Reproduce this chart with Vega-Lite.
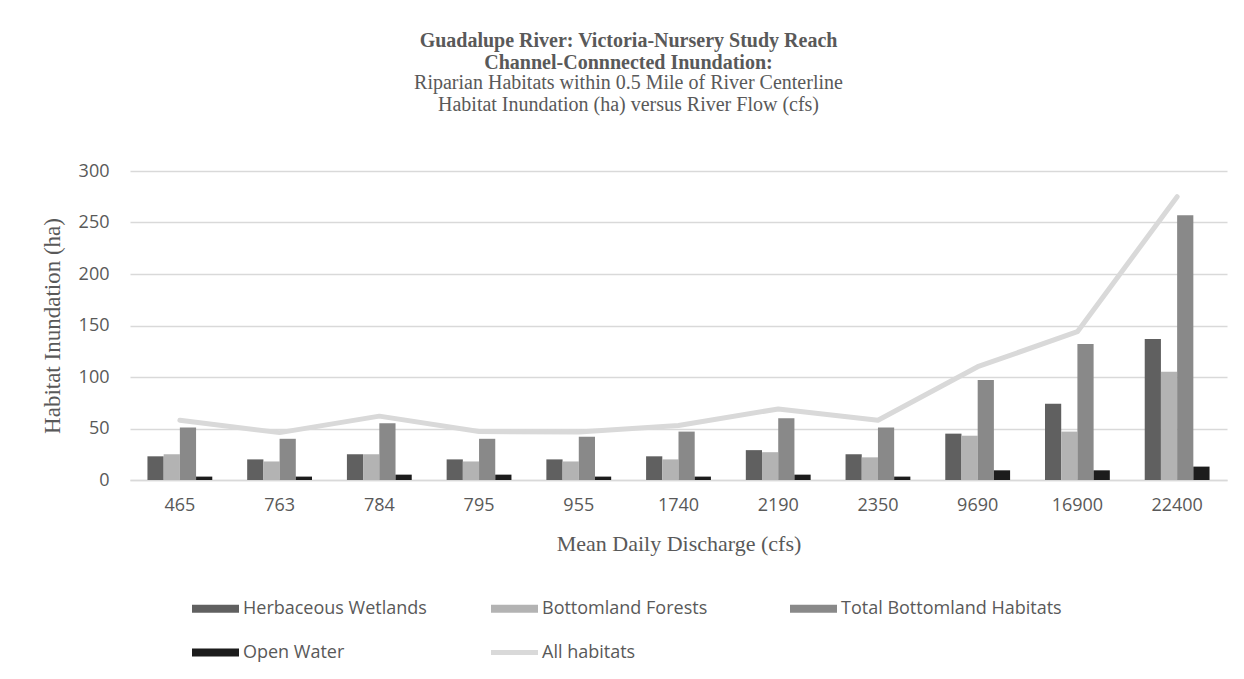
{
  "$schema": "https://vega.github.io/schema/vega-lite/v6.json",
  "width": 1097,
  "height": 309,
  "autosize": {"type": "none"},
  "padding": {"left": 130, "top": 171, "right": 17, "bottom": 199},
  "background": "white",
  "title": {
    "text": ["Guadalupe River: Victoria-Nursery Study Reach", "Channel-Connnected Inundation:"],
    "subtitle": ["Riparian Habitats within 0.5 Mile of River Centerline", "Habitat Inundation (ha) versus River Flow (cfs)"],
    "anchor": "middle",
    "frame": "group",
    "dx": -50,
    "offset": 47,
    "font": "Liberation Serif",
    "fontSize": 20,
    "fontWeight": "bold",
    "color": "#595959",
    "lineHeight": 22,
    "subtitleFont": "Liberation Serif",
    "subtitleFontSize": 20,
    "subtitleColor": "#595959",
    "subtitleLineHeight": 22,
    "subtitlePadding": 0
  },
  "data": {
    "values": [
      {"flow": "465", "series": "Herbaceous Wetlands", "value": 23},
      {"flow": "465", "series": "Bottomland Forests", "value": 25},
      {"flow": "465", "series": "Total Bottomland Habitats", "value": 51},
      {"flow": "465", "series": "Open Water", "value": 3.3},
      {"flow": "465", "series": "All habitats", "value": 58},
      {"flow": "763", "series": "Herbaceous Wetlands", "value": 20},
      {"flow": "763", "series": "Bottomland Forests", "value": 18},
      {"flow": "763", "series": "Total Bottomland Habitats", "value": 40},
      {"flow": "763", "series": "Open Water", "value": 3.3},
      {"flow": "763", "series": "All habitats", "value": 46},
      {"flow": "784", "series": "Herbaceous Wetlands", "value": 25},
      {"flow": "784", "series": "Bottomland Forests", "value": 25},
      {"flow": "784", "series": "Total Bottomland Habitats", "value": 55},
      {"flow": "784", "series": "Open Water", "value": 5.2},
      {"flow": "784", "series": "All habitats", "value": 62},
      {"flow": "795", "series": "Herbaceous Wetlands", "value": 20},
      {"flow": "795", "series": "Bottomland Forests", "value": 18},
      {"flow": "795", "series": "Total Bottomland Habitats", "value": 40},
      {"flow": "795", "series": "Open Water", "value": 5.2},
      {"flow": "795", "series": "All habitats", "value": 47},
      {"flow": "955", "series": "Herbaceous Wetlands", "value": 20},
      {"flow": "955", "series": "Bottomland Forests", "value": 18},
      {"flow": "955", "series": "Total Bottomland Habitats", "value": 42},
      {"flow": "955", "series": "Open Water", "value": 3.3},
      {"flow": "955", "series": "All habitats", "value": 46.5},
      {"flow": "1740", "series": "Herbaceous Wetlands", "value": 23},
      {"flow": "1740", "series": "Bottomland Forests", "value": 20},
      {"flow": "1740", "series": "Total Bottomland Habitats", "value": 47},
      {"flow": "1740", "series": "Open Water", "value": 3.3},
      {"flow": "1740", "series": "All habitats", "value": 53},
      {"flow": "2190", "series": "Herbaceous Wetlands", "value": 29},
      {"flow": "2190", "series": "Bottomland Forests", "value": 27},
      {"flow": "2190", "series": "Total Bottomland Habitats", "value": 60},
      {"flow": "2190", "series": "Open Water", "value": 5.2},
      {"flow": "2190", "series": "All habitats", "value": 69},
      {"flow": "2350", "series": "Herbaceous Wetlands", "value": 25},
      {"flow": "2350", "series": "Bottomland Forests", "value": 22},
      {"flow": "2350", "series": "Total Bottomland Habitats", "value": 51},
      {"flow": "2350", "series": "Open Water", "value": 3.3},
      {"flow": "2350", "series": "All habitats", "value": 58},
      {"flow": "9690", "series": "Herbaceous Wetlands", "value": 45},
      {"flow": "9690", "series": "Bottomland Forests", "value": 43},
      {"flow": "9690", "series": "Total Bottomland Habitats", "value": 97},
      {"flow": "9690", "series": "Open Water", "value": 9.4},
      {"flow": "9690", "series": "All habitats", "value": 110},
      {"flow": "16900", "series": "Herbaceous Wetlands", "value": 74},
      {"flow": "16900", "series": "Bottomland Forests", "value": 47},
      {"flow": "16900", "series": "Total Bottomland Habitats", "value": 132},
      {"flow": "16900", "series": "Open Water", "value": 9.4},
      {"flow": "16900", "series": "All habitats", "value": 144},
      {"flow": "22400", "series": "Herbaceous Wetlands", "value": 137},
      {"flow": "22400", "series": "Bottomland Forests", "value": 105},
      {"flow": "22400", "series": "Total Bottomland Habitats", "value": 257},
      {"flow": "22400", "series": "Open Water", "value": 13},
      {"flow": "22400", "series": "All habitats", "value": 275}
    ]
  },
  "encoding": {
    "x": {
      "field": "flow",
      "type": "nominal",
      "sort": null,
      "scale": {"paddingInner": 0.35, "paddingOuter": 0.175},
      "axis": {
        "title": "Mean Daily Discharge (cfs)",
        "labelAngle": 0,
        "ticks": false,
        "domain": true,
        "domainColor": "#d9d9d9",
        "domainWidth": 1.5,
        "labelFont": "Open Sans",
        "labelFontSize": 18,
        "labelColor": "#595959",
        "labelPadding": 16,
        "titleFont": "Liberation Serif",
        "titleFontSize": 22,
        "titleFontWeight": "normal",
        "titleColor": "#595959",
        "titlePadding": 19
      }
    },
    "y": {
      "field": "value",
      "type": "quantitative",
      "scale": {"domain": [0, 300]},
      "axis": {
        "title": "Habitat Inundation (ha)",
        "values": [0, 50, 100, 150, 200, 250, 300],
        "ticks": false,
        "domain": false,
        "grid": true,
        "gridColor": "#d9d9d9",
        "gridWidth": 1.3,
        "labelFont": "Open Sans",
        "labelFontSize": 18,
        "labelColor": "#595959",
        "labelPadding": 21,
        "titleFont": "Liberation Serif",
        "titleFontSize": 23,
        "titleFontWeight": "normal",
        "titleColor": "#595959",
        "titlePadding": 14
      }
    },
    "color": {
      "field": "series",
      "type": "nominal",
      "scale": {
        "domain": ["Herbaceous Wetlands", "Bottomland Forests", "Total Bottomland Habitats", "Open Water", "All habitats"],
        "range": ["#606060", "#b3b3b3", "#898989", "#1c1c1c", "#d9d9d9"]
      },
      "legend": {
        "title": null,
        "orient": "none",
        "direction": "horizontal",
        "legendX": 62,
        "legendY": 414,
        "columns": 3,
        "gridAlign": "all",
        "columnPadding": 27,
        "rowPadding": 11,
        "symbolSize": 2209,
        "symbolType": "M-1,-0.17L1,-0.17L1,0.17L-1,0.17Z",
        "labelFont": "Open Sans",
        "labelFontSize": 18,
        "labelColor": "#595959",
        "labelOffset": 4,
        "labelLimit": 400,
        "encode": {
          "symbols": {
            "update": {
              "shape": {"signal": "datum.value === 'All habitats' ? 'M-1,-0.11L1,-0.11L1,0.11L-1,0.11Z' : 'M-1,-0.17L1,-0.17L1,0.17L-1,0.17Z'"},
              "fill": {"scale": "color", "field": "value"},
              "strokeWidth": {"value": 0},
              "opacity": {"value": 1}
            }
          }
        }
      }
    }
  },
  "layer": [
    {
      "transform": [{"filter": "datum.series !== 'All habitats'"}],
      "mark": {"type": "bar"},
      "encoding": {
        "xOffset": {
          "field": "series",
          "type": "nominal",
          "scale": {"domain": ["Herbaceous Wetlands", "Bottomland Forests", "Total Bottomland Habitats", "Open Water"], "paddingInner": 0, "paddingOuter": 0}
        }
      }
    },
    {
      "transform": [{"filter": "datum.series === 'All habitats'"}],
      "mark": {"type": "line", "strokeWidth": 5, "strokeCap": "round", "strokeJoin": "round"},
      "encoding": {}
    }
  ],
  "config": {
    "view": {"stroke": null}
  }
}
